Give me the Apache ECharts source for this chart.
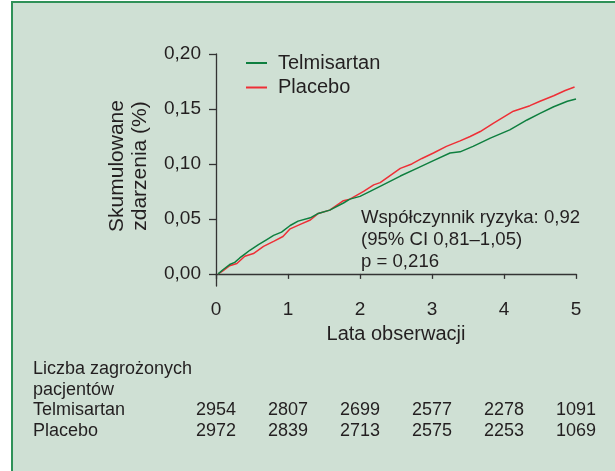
<!DOCTYPE html>
<html>
<head>
<meta charset="utf-8">
<script src="https://cdn.jsdelivr.net/npm/echarts@6/dist/echarts.min.js"></script>
<style>
html,body{margin:0;padding:0;background:#fff;}
#chart{width:615px;height:471px;}
</style>
</head>
<body>
<div id="chart"></div>
<script>
// ---- data ----
var seriesNames = ['Telmisartan', 'Placebo'];
var telmiTime  = [0.03,0.10,0.19,0.26,0.33,0.40,0.47,0.59,0.70,0.80,0.91,1.03,1.14,1.31,1.42,1.58,1.77,1.86,2.00,2.14,2.32,2.56,2.79,3.02,3.25,3.39,3.57,3.81,4.08,4.32,4.50,4.69,4.88,5.00];
var telmiValue = [0,0.004,0.0085,0.0105,0.0145,0.018,0.0215,0.0266,0.031,0.035,0.038,0.044,0.048,0.051,0.055,0.058,0.0645,0.068,0.0705,0.075,0.081,0.089,0.096,0.103,0.110,0.111,0.116,0.1235,0.131,0.140,0.146,0.152,0.157,0.159];
var placTime   = [0.03,0.10,0.19,0.29,0.40,0.52,0.66,0.80,0.93,1.03,1.17,1.31,1.42,1.58,1.77,1.86,2.05,2.19,2.28,2.56,2.72,2.86,3.02,3.20,3.39,3.53,3.67,3.85,4.13,4.36,4.50,4.69,4.85,4.98];
var placValue  = [0,0.003,0.0075,0.0094,0.016,0.0185,0.025,0.0296,0.034,0.041,0.045,0.049,0.055,0.058,0.0666,0.068,0.075,0.081,0.083,0.096,0.100,0.105,0.110,0.116,0.121,0.125,0.1295,0.137,0.148,0.153,0.157,0.162,0.1668,0.170];
var yTicks = [0, 0.05, 0.10, 0.15, 0.20];
var xTicks = [0, 1, 2, 3, 4, 5];
var riskTelmi = [2954, 2807, 2699, 2577, 2278, 1091];
var riskPlac  = [2972, 2839, 2713, 2575, 2253, 1069];
var riskHeader = ['Liczba zagrożonych', 'pacjentów'];
var annotation = ['Współczynnik ryzyka: 0,92', '(95% CI 0,81–1,05)', 'p = 0,216'];
var xName = 'Lata obserwacji';
var yName = ['Skumulowane', 'zdarzenia (%)'];

// ---- styles ----
var FONT = 'Liberation Sans, Arial, sans-serif';
var TXT = '#231f20';
var BG = '#cfe0d4';
var BORDER = '#2f9158';
var GREEN = '#0e7f3f';
var RED = '#ee2f36';

function zip(a, b) { return a.map(function (v, i) { return [v, b[i]]; }); }
function fmt(v) { return v.toFixed(2).replace('.', ','); }

var chart = echarts.init(document.getElementById('chart'), null, {renderer: 'canvas'});

var baseGraphic = [
  {type: 'rect', z: -10, shape: {x: 12, y: 3, width: 603, height: 468}, style: {fill: BG}},
  {type: 'rect', z: -9, shape: {x: 11, y: 1, width: 2, height: 470}, style: {fill: BORDER}},
  {type: 'rect', z: -9, shape: {x: 11, y: 1, width: 604, height: 2}, style: {fill: BORDER}},
  {type: 'text', x: 129, y: 166, rotation: Math.PI / 2,
    style: {text: yName.join('\n'), font: '21px ' + FONT, fill: TXT, align: 'center', verticalAlign: 'middle', lineHeight: 23}},
];
annotation.forEach(function (t, i) {
  baseGraphic.push({type: 'text', x: 361, y: 218 + i * 22,
    style: {text: t, font: '18.6px ' + FONT, fill: TXT, verticalAlign: 'middle'}});
});
riskHeader.concat(seriesNames).forEach(function (t, i) {
  baseGraphic.push({type: 'text', x: 33, y: 369 + i * 20.7,
    style: {text: t, font: '18px ' + FONT, fill: TXT, verticalAlign: 'middle'}});
});

var option = {
  animation: false,
  backgroundColor: 'transparent',
  grid: {left: 216, right: 39, top: 54, bottom: 185, containLabel: false},
  legend: {
    orient: 'vertical', left: 246, top: 53, itemGap: 4.5, padding: 0,
    itemWidth: 21, itemHeight: 2, icon: 'rect',
    textStyle: {fontFamily: FONT, fontSize: 20, color: TXT, padding: [0, 0, 0, 6]},
    data: seriesNames
  },
  xAxis: {
    type: 'value', min: 0, max: 5, interval: 1,
    name: xName, nameLocation: 'middle', nameGap: 38,
    nameTextStyle: {fontFamily: FONT, fontSize: 20, color: TXT},
    axisLine: {lineStyle: {color: '#333', width: 1.3}},
    axisTick: {length: 5, lineStyle: {color: '#333', width: 1.3}},
    axisLabel: {fontFamily: FONT, fontSize: 19, color: TXT, margin: 14},
    splitLine: {show: false}
  },
  yAxis: {
    type: 'value', min: -0.011, max: 0.2,
    axisLine: {show: true, lineStyle: {color: '#333', width: 1.3}},
    axisTick: {show: true, length: 7, customValues: yTicks, lineStyle: {color: '#333', width: 1.3}},
    axisLabel: {fontFamily: FONT, fontSize: 19, color: TXT, margin: 15, customValues: yTicks, formatter: fmt},
    splitLine: {show: false}
  },
  series: [
    {name: seriesNames[0], type: 'line', data: zip(telmiTime, telmiValue), showSymbol: false, symbol: 'none',
      lineStyle: {color: GREEN, width: 1.5}, itemStyle: {color: GREEN}, z: 3},
    {name: seriesNames[1], type: 'line', data: zip(placTime, placValue), showSymbol: false, symbol: 'none',
      lineStyle: {color: RED, width: 1.5}, itemStyle: {color: RED}, z: 2}
  ],
  graphic: baseGraphic
};
chart.setOption(option);

// numbers at risk, placed under the x-axis ticks through the axis scale
var g2 = baseGraphic.slice();
xTicks.forEach(function (t, i) {
  var px = chart.convertToPixel({xAxisIndex: 0}, t);
  g2.push({type: 'text', x: px, y: 410, style: {text: String(riskTelmi[i]), font: '18px ' + FONT, fill: TXT, align: 'center', verticalAlign: 'middle'}});
  g2.push({type: 'text', x: px, y: 431, style: {text: String(riskPlac[i]), font: '18px ' + FONT, fill: TXT, align: 'center', verticalAlign: 'middle'}});
});
chart.setOption({graphic: g2}, {replaceMerge: ['graphic']});
</script>
</body>
</html>
